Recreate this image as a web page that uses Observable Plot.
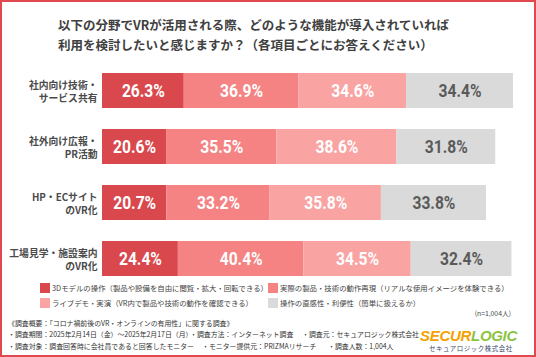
<!DOCTYPE html>
<html><head><meta charset="utf-8">
<script src="https://cdn.jsdelivr.net/npm/d3@7"></script>
<script src="https://cdn.jsdelivr.net/npm/@observablehq/plot@0.6"></script>
<style>
body{margin:0;background:#fff;}
#wrap{position:relative;width:536px;height:357px;overflow:hidden;background:#fff;font-family:"Noto Sans CJK JP","Noto Sans",sans-serif;color:#444;}
.t{position:absolute;white-space:nowrap;line-height:1;transform:translateY(-50%);}
#frame{position:absolute;left:0;top:0;width:536px;height:357px;box-sizing:border-box;border:2px solid #e04a4f;pointer-events:none;}
svg{position:absolute;left:0;top:0;}
</style>
</head><body>
<div id="wrap"></div>
<script>
const categories = ["社内向け技術・\nサービス共有", "社外向け広報・\nPR活動", "HP・ECサイト\nのVR化", "工場見学・施設案内\nのVR化"];
const seriesNames = [
  "3Dモデルの操作（製品や設備を自由に閲覧・拡大・回転できる）",
  "実際の製品・技術の動作再現（リアルな使用イメージを体験できる）",
  "ライブデモ・実演（VR内で製品や技術の動作を確認できる）",
  "操作の直感性・利便性（簡単に扱えるか）"
];
const v1 = [26.3, 20.6, 20.7, 24.4];
const v2 = [36.9, 35.5, 33.2, 40.4];
const v3 = [34.6, 38.6, 35.8, 34.5];
const v4 = [34.4, 31.8, 33.8, 32.4];
const seriesValues = [v1, v2, v3, v4];
const colors = ["#d9484d", "#f58383", "#f9a3a3", "#dadada"];
const labelColors = ["#ffffff", "#ffffff", "#ffffff", "#5a5a5a"];
const titleLines = ["以下の分野でVRが活用される際、どのような機能が導入されていれば", "利用を検討したいと感じますか？（各項目ごとにお答えください）"];
const sampleNote = "(n=1,004人)";
const footerLines = [
  [["《調査概要：「コロナ禍前後のVR・オンラインの有用性」に関する調査》", 8]],
  [["・調査期間：2025年2月14日（金）～2025年2月17日（月）", 8], ["・調査方法：インターネット調査", 190], ["・調査元：セキュアロジック株式会社", 302]],
  [["・調査対象：調査回答時に会社員であると回答したモニター", 8], ["・モニター提供元：PRIZMAリサーチ", 202], ["・調査人数：1,004人", 328]]
];

const data = [];
categories.forEach((c, i) => seriesNames.forEach((s, j) => data.push({cat: c, series: s, si: j, value: seriesValues[j][i]})));
const maxTotal = d3.max(categories.map((c, i) => d3.sum(seriesValues, v => v[i])));

const wrap = document.getElementById("wrap");
const chart = Plot.plot({
  width: 536, height: 300,
  marginLeft: 102, marginRight: 23, marginTop: 52, marginBottom: 3,
  x: {domain: [0, maxTotal], axis: null},
  y: {domain: categories, padding: 0.375, label: null},
  color: {domain: seriesNames, range: colors},
  marks: [
    Plot.axisY({tickSize: 0, tickPadding: 5, fontSize: 9.8, fontWeight: "bold", lineHeight: 1.36, fill: "#4a4a4a", label: null,
      fontFamily: "Noto Sans CJK JP"}),
    Plot.barX(data, Plot.stackX({x: "value", y: "cat", fill: "series"})),
    Plot.text(data, Plot.stackX({x: "value", y: "cat", text: d => d.value.toFixed(1) + "%",
      fill: d => labelColors[d.si], fontSize: 18, fontWeight: "bold",
      fontFamily: "Roboto, 'DejaVu Sans', sans-serif"}))
  ]
});
chart.style.fontFamily = "Noto Sans CJK JP";
// condense the percentage labels to match the narrow display face of the original
chart.querySelectorAll('g[aria-label="text"] text').forEach(t => {
  t.setAttribute("textLength", 43);
  t.setAttribute("lengthAdjust", "spacingAndGlyphs");
});
wrap.appendChild(chart);

function addText(txt, x, y, style) {
  const d = document.createElement("div");
  d.className = "t";
  d.textContent = txt;
  d.style.left = x + "px"; d.style.top = y + "px";
  Object.assign(d.style, style || {});
  wrap.appendChild(d);
  return d;
}
// title
addText(titleLines[0], 58, 25, {fontSize: "12.5px", fontWeight: "bold", color: "#404040"});
addText(titleLines[1], 58, 45, {fontSize: "12.5px", fontWeight: "bold", color: "#404040"});
// legend
const legPos = [[40, 288], [268, 288], [40, 303], [268, 303]];
seriesNames.forEach((s, j) => {
  const [x, y] = legPos[j];
  const sw = document.createElement("div");
  sw.style.cssText = `position:absolute;left:${x}px;top:${y - 5}px;width:10px;height:10px;background:${colors[j]}`;
  wrap.appendChild(sw);
  addText(s, x + 12, y, {fontSize: "7.4px", color: "#444"});
});
// n note
addText(sampleNote, 0, 313, {fontSize: "6.8px", color: "#444", left: "auto", right: "25px"});
// footer
const fy = [323, 334, 346];
footerLines.forEach((line, i) => line.forEach(([t, x]) => addText(t, x, fy[i], {fontSize: "6.9px", color: "#333"})));
// logo
const logo = addText("", 420, 335, {fontSize: "15px", fontWeight: "900", fontStyle: "italic", fontFamily: "'Liberation Sans','DejaVu Sans',sans-serif", letterSpacing: "-0.3px"});
logo.innerHTML = '<span style="color:#f5a100">SECUR</span><span style="color:#8cc43f">LOGIC</span>';
addText("セキュアロジック株式会社", 429, 348, {fontSize: "6.5px", color: "#3d4a6b", letterSpacing: "0.5px"});

const fr = document.createElement("div"); fr.id = "frame"; wrap.appendChild(fr);
</script>
</body></html>
